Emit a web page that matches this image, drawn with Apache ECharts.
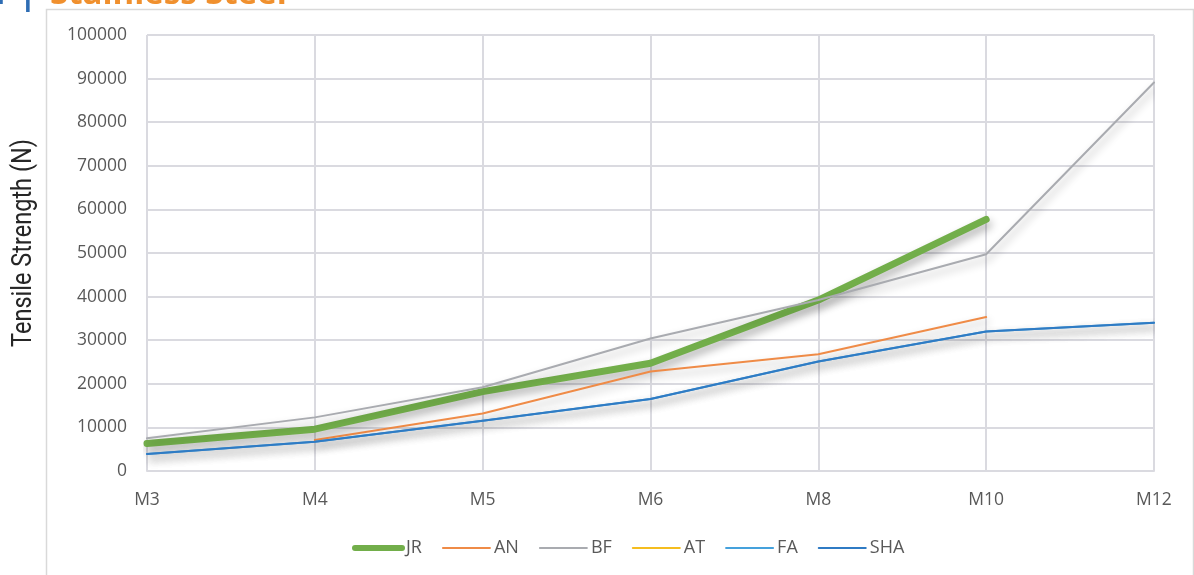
<!DOCTYPE html>
<html>
<head>
<meta charset="utf-8">
<title>Tensile Strength by Thread Size</title>
<script src="https://cdn.jsdelivr.net/npm/echarts@6/dist/echarts.min.js"></script>
<style>
  html, body { margin: 0; padding: 0; background: #ffffff; }
  #chart { width: 1194px; height: 575px; }
</style>
</head>
<body>
<div id="chart"></div>
<script>
// Thread sizes along the x axis
var sizes = ['M3', 'M4', 'M5', 'M6', 'M8', 'M10', 'M12'];

// Tensile strength (N) per manufacturer
var jr  = [6300, 9600, 18200, 24700, 39200, 57700, null];
var an  = [null, 7100, 13200, 22800, 26800, 35300, null];
var bf  = [7500, 12300, 19200, 30400, 39200, 49700, 89100];
var at  = [null, null, null, null, null, null, null];
var fa  = [3900, 6700, 11500, 16500, 25100, 32000, 34000];
var sha = [3900, 6700, 11500, 16500, 25100, 32000, 34000];

// Legend entries
var names = ['JR', 'AN', 'BF', 'AT', 'FA', 'SHA'];

// Value axis range
var yMin = 0, yMax = 100000, yStep = 10000;

var gridColor = '#dadae0';
var textColor = '#595959';
var uiFont = '"Open Sans", "Noto Sans", sans-serif';

function lineSeries(name, data, color, width) {
  return {
    name: name,
    type: 'line',
    data: data,
    symbol: 'none',
    showSymbol: false,
    connectNulls: false,
    lineStyle: {
      color: color,
      width: width,
      cap: 'round',
      join: 'round',
      shadowColor: 'rgba(0,0,0,0.32)',
      shadowBlur: 8,
      shadowOffsetX: 2,
      shadowOffsetY: 5
    },
    itemStyle: { color: color },
    emphasis: { disabled: true }
  };
}

var chart = echarts.init(document.getElementById('chart'), null, { renderer: 'canvas' });

chart.setOption({
  animation: false,
  backgroundColor: '#ffffff',
  grid: { left: 147, right: 40, top: 35, bottom: 104, containLabel: false },
  graphic: [
    {
      type: 'rect',
      shape: { x: 46.5, y: 9.5, width: 1147, height: 700 },
      style: { fill: 'none', stroke: '#d9d9d9', lineWidth: 1.5 },
      silent: true
    },
    {
      type: 'text',
      x: 37, y: -5,
      style: {
        text: 'Steel Bar |',
        fill: '#2e6db4',
        font: 'bold 33px "Open Sans", sans-serif',
        align: 'right',
        verticalAlign: 'middle'
      },
      silent: true
    },
    {
      type: 'text',
      x: 50, y: -5,
      style: {
        text: 'Stainless Steel',
        fill: '#f0902e',
        font: 'bold 33px "Open Sans", sans-serif',
        align: 'left',
        verticalAlign: 'middle'
      },
      silent: true
    },
    {
      type: 'text',
      x: 24, y: 243,
      rotation: Math.PI / 2,
      scaleX: 0.84,
      style: {
        text: 'Tensile Strength (N)',
        fill: '#262626',
        font: '28px Roboto, sans-serif',
        align: 'center',
        verticalAlign: 'middle'
      },
      silent: true
    }
  ],
  legend: {
    left: 347,
    top: 534,
    itemWidth: 47,
    itemHeight: 14,
    itemGap: 20,
    textStyle: { color: textColor, fontSize: 18, fontFamily: uiFont, padding: [0, 0, 0, -1] },
    itemStyle: { opacity: 0 },
    lineStyle: { shadowBlur: 0, shadowOffsetX: 0, shadowOffsetY: 0, shadowColor: 'rgba(0,0,0,0)', cap: 'round' },
    data: names.map(function (n) {
      return { name: n, lineStyle: { width: n === 'JR' ? 6 : 2, cap: 'round' } };
    }),
    selectedMode: false
  },
  xAxis: {
    type: 'category',
    data: sizes,
    boundaryGap: false,
    axisLine: { show: true, lineStyle: { color: gridColor, width: 2 } },
    axisTick: { show: false },
    axisLabel: { color: textColor, fontSize: 17.5, fontFamily: uiFont, margin: 20 },
    splitLine: { show: true, lineStyle: { color: gridColor, width: 2 } }
  },
  yAxis: {
    type: 'value',
    min: yMin,
    max: yMax,
    interval: yStep,
    axisLine: { show: false },
    axisTick: { show: false },
    axisLabel: {
      color: textColor, fontSize: 17.5, fontFamily: uiFont, margin: 20,
      formatter: function (v) { return String(v); }
    },
    splitLine: { show: true, lineStyle: { color: gridColor, width: 2 } }
  },
  series: [
    lineSeries('JR', jr, '#72ae4a', 7),
    lineSeries('AN', an, '#ef8b47', 2),
    lineSeries('BF', bf, '#a9abb0', 2),
    lineSeries('AT', at, '#f5bd1f', 2),
    lineSeries('FA', fa, '#45a1dc', 2),
    lineSeries('SHA', sha, '#2f7bc4', 2)
  ]
});
</script>
</body>
</html>
